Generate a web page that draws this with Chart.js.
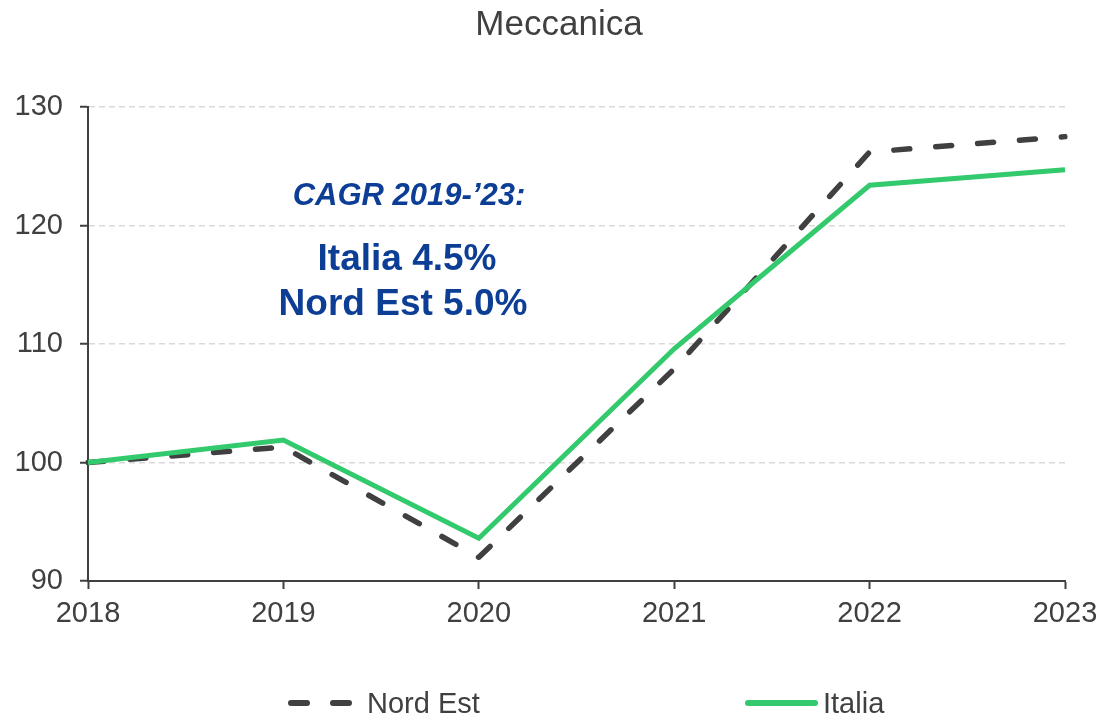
<!DOCTYPE html>
<html>
<head>
<meta charset="utf-8">
<title>Meccanica</title>
<script src="https://cdn.jsdelivr.net/npm/chart.js@4/dist/chart.umd.min.js"></script>
<style>
  html, body { margin: 0; padding: 0; background: #fff; }
  #wrap { width: 1101px; height: 716px; position: relative; }
</style>
</head>
<body>
<div id="wrap"><canvas id="chart" width="1101" height="716"></canvas></div>
<script>
// --- Data ---
const years = ['2018', '2019', '2020', '2021', '2022', '2023'];
const nordEst = [100, 101.3, 92.0, 107.9, 126.2, 127.5];
const italia = [100, 101.9, 93.6, 109.6, 123.4, 124.7];
const yTicks = [90, 100, 110, 120, 130];

const titleText = 'Meccanica';
const cagrHead = 'CAGR 2019-\u201923:';
const cagrLines = ['Italia 4.5%', 'Nord Est 5.0%'];

const colors = {
  text: '#404040',
  axis: '#404040',
  grid: '#d9d9d9',
  dark: '#404040',
  green: '#33c96d',
  blue: '#0d3e96',
};
const FONT = "'Liberation Sans', Arial, sans-serif";

// --- Title, annotation and legend drawn on the canvas ---
const decorPlugin = {
  id: 'decor',
  afterDraw(chart) {
    const ctx = chart.ctx;
    ctx.save();

    // title
    ctx.fillStyle = colors.text;
    ctx.font = `35px ${FONT}`;
    ctx.textAlign = 'center';
    ctx.textBaseline = 'alphabetic';
    ctx.fillText(titleText, 559, 35);

    // CAGR box
    ctx.fillStyle = colors.blue;
    ctx.font = `italic bold 31px ${FONT}`;
    ctx.fillText(cagrHead, 409, 205);
    ctx.font = `bold 37px ${FONT}`;
    ctx.fillText(cagrLines[0], 407, 270);
    ctx.fillText(cagrLines[1], 403, 315);

    // legend
    const items = [
      { ds: chart.data.datasets[0], x0: 291, x1: 351, tx: 367 },
      { ds: chart.data.datasets[1], x0: 748, x1: 815, tx: 823 },
    ];
    const ly = 703;
    items.forEach(it => {
      ctx.beginPath();
      ctx.lineWidth = 6;
      ctx.lineCap = 'round';
      ctx.strokeStyle = it.ds.borderColor;
      ctx.setLineDash(it.ds.borderDash || []);
      ctx.moveTo(it.x0, ly);
      ctx.lineTo(it.x1, ly);
      ctx.stroke();
      ctx.setLineDash([]);
      ctx.fillStyle = colors.text;
      ctx.font = `29px ${FONT}`;
      ctx.textAlign = 'left';
      ctx.fillText(it.ds.label, it.tx, 713);
    });

    ctx.restore();
  }
};

const ctx = document.getElementById('chart').getContext('2d');
new Chart(ctx, {
  type: 'line',
  data: {
    labels: years,
    datasets: [
      {
        label: 'Nord Est',
        data: nordEst,
        borderColor: colors.dark,
        borderWidth: 5.5,
        borderDash: [16, 26],
        borderCapStyle: 'round',
        borderJoinStyle: 'round',
        pointRadius: 0,
        tension: 0,
        fill: false,
        order: 1,
      },
      {
        label: 'Italia',
        data: italia,
        borderColor: colors.green,
        borderWidth: 5,
        borderCapStyle: 'butt',
        borderJoinStyle: 'miter',
        pointRadius: 0,
        tension: 0,
        fill: false,
        order: 0,
      }
    ]
  },
  options: {
    responsive: false,
    animation: false,
    layout: { padding: { top: 107, right: 36, left: 0, bottom: 0 } },
    plugins: {
      legend: { display: false },
      title: { display: false },
      tooltip: { enabled: false },
    },
    scales: {
      x: {
        type: 'category',
        offset: false,
        afterFit: s => {
          s.height = 135;
          s.paddingLeft = 0;
          s.paddingRight = 0;
        },
        grid: {
          drawOnChartArea: false,
          drawTicks: true,
          tickLength: 8,
          tickColor: colors.axis,
          tickWidth: 2,
        },
        border: { display: true, color: colors.axis, width: 2 },
        ticks: {
          color: colors.text,
          font: { family: FONT, size: 29 },
          padding: 8,
          maxRotation: 0,
          autoSkip: false,
        },
      },
      y: {
        min: 90,
        max: 130,
        afterFit: s => {
          s.width = 88;
          s.paddingTop = 0;
          s.paddingBottom = 0;
        },
        afterBuildTicks: s => { s.ticks = yTicks.map(v => ({ value: v })); },
        grid: {
          color: colors.grid,
          lineWidth: 1.5,
          tickLength: 8,
          tickColor: colors.axis,
          tickWidth: 2,
          tickBorderDash: [],
        },
        border: { display: true, color: colors.axis, width: 2, dash: [6, 4] },
        ticks: {
          color: colors.text,
          font: { family: FONT, size: 29 },
          padding: 17,
        },
      }
    }
  },
  plugins: [decorPlugin]
});
</script>
</body>
</html>
